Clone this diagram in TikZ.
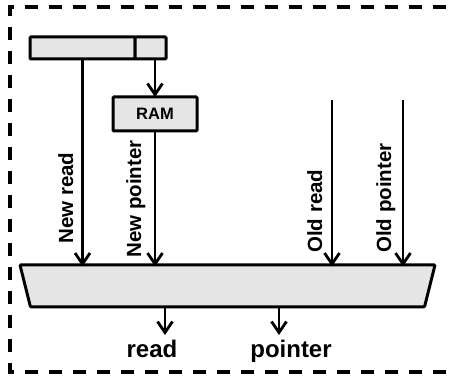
\documentclass[tikz,border=0pt]{standalone}
\usepackage{fontspec}
\setmainfont{Liberation Sans}
\usetikzlibrary{arrows.meta,positioning}
\tikzset{
  >={Straight Barb[length=11pt,width=15pt,line width=2.8pt]},
  line/.style     = {->, line width=2.2pt},
  block/.style    = {rectangle, rounded corners=1pt, draw, line width=3pt, fill=gray!20, inner sep=0pt, outer sep=0pt},
  muxbody/.style  = {draw, line width=3pt, fill=gray!20, rounded corners=1pt},
  sidelabel/.style= {rotate=90, anchor=base west, inner sep=0pt, font=\fontsize{20.5}{20}\selectfont\bfseries},
  outlabel/.style = {anchor=base, inner sep=0pt, font=\fontsize{24}{24}\selectfont\bfseries},
  frame/.style    = {dash pattern=on 13pt off 11pt, line width=3.2pt}
}
\begin{document}
\begin{tikzpicture}[x=1pt, y=-1pt]
\useasboundingbox (0,0) rectangle (453,382);

% Outer frame
\draw[frame] (470,7) -- (10,7) -- (10,372) -- (470,372);

% Buffer and RAM
\node (bufL) [block, minimum width=105pt, minimum height=22pt] at (82.5,48) {};
\node (bufR) [block, minimum width=31pt, minimum height=22pt, right=0pt of bufL] {};
\node (ram) [block, minimum width=84pt, minimum height=34pt, below=38pt of bufR, xshift=4.5pt, font=\fontsize{16.5}{16}\selectfont\bfseries] {RAM};

% Selector
\node (sel) [rectangle, inner sep=0pt, outer sep=0pt, minimum width=415pt, minimum height=42pt] at (227.5,286) {};
\draw[muxbody] (sel.north west) -- (sel.north east) -- ([xshift=-10.5pt]sel.south east) -- ([xshift=10.5pt]sel.south west) -- cycle;

% Old values
\coordinate (oldRd) at (332,100);
\coordinate (oldPtr) at (403,100);

% Connections
\draw[line] (bufL.south) -- ([yshift=-1.5pt]bufL.south |- sel.north);
\draw[line] (bufR.south -| ram.north) -- (ram.north);
\draw[line] (ram.south) -- ([yshift=-1.5pt]ram.south |- sel.north);
\draw[line] (oldRd) -- ([yshift=-1.5pt]oldRd |- sel.north);
\draw[line] (oldPtr) -- ([yshift=-1.5pt]oldPtr |- sel.north);

% Input labels
\node (lNewRd) [sidelabel] at (73,244) {New read};
\node (lNewPtr) [sidelabel] at (141,258) {New pointer};
\node (lOldRd) [sidelabel] at (322,253) {Old read};
\node (lOldPtr) [sidelabel] at (391,253) {Old pointer};

% Outputs
\coordinate (rdEnd) at (165,335);
\coordinate (ptrEnd) at (279,335);
\draw[line] (sel.south -| rdEnd) -- (rdEnd);
\draw[line] (sel.south -| ptrEnd) -- (ptrEnd);
\node (outRd) [outlabel] at (152,358) {read};
\node (outPtr) [outlabel] at (291,358) {pointer};

\end{tikzpicture}
\end{document}
